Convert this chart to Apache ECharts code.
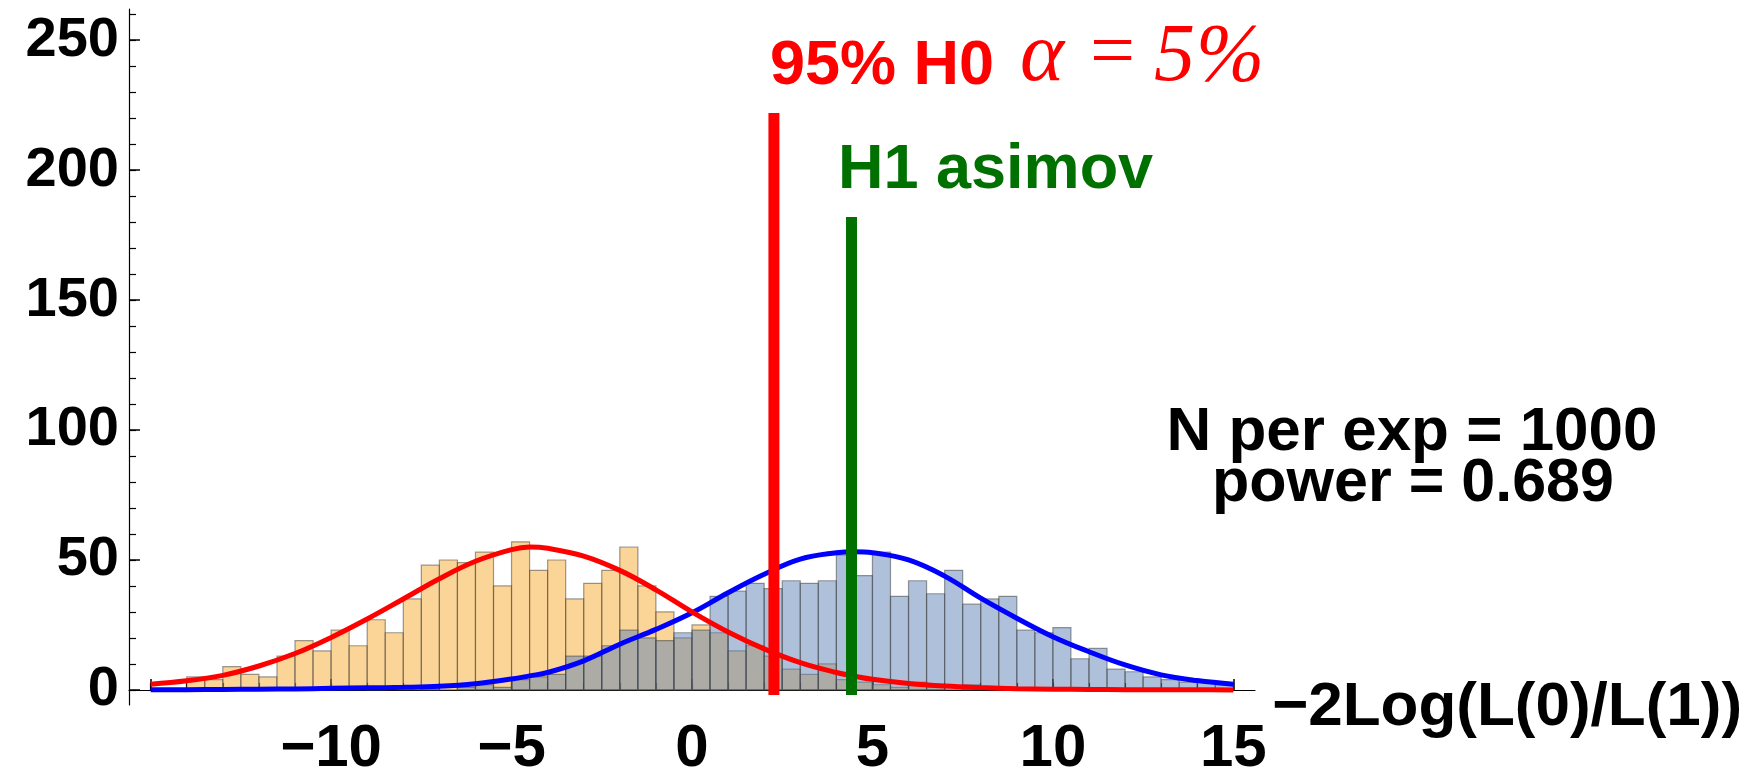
<!DOCTYPE html>
<html>
<head>
<meta charset="utf-8">
<script src="https://cdn.jsdelivr.net/npm/echarts@6/dist/echarts.min.js"></script>
<style>
  html, body { margin: 0; padding: 0; background: #fff; }
  #chart { width: 1764px; height: 770px; }
</style>
</head>
<body>
<div id="chart"></div>
<script>
// Histogram bins (left edges), width 0.5
const binWidth = 0.5;
const binStarts = [
  -15, -14.5, -14, -13.5, -13, -12.5, -12, -11.5, -11, -10.5,
  -10, -9.5, -9, -8.5, -8, -7.5, -7, -6.5, -6, -5.5,
  -5, -4.5, -4, -3.5, -3, -2.5, -2, -1.5, -1, -0.5,
  0, 0.5, 1, 1.5, 2, 2.5, 3, 3.5, 4, 4.5,
  5, 5.5, 6, 6.5, 7, 7.5, 8, 8.5, 9, 9.5,
  10, 10.5, 11, 11.5, 12, 12.5, 13, 13.5, 14, 14.5
];

// Pseudo-experiment counts under H0 (orange) and H1 (blue)
const h0Counts = [
  0, 0, 5, 4, 9, 6, 5, 13, 19, 15,
  23, 17, 27, 22, 35, 48, 50, 49, 53, 40,
  57, 46, 50, 35, 41, 46, 55, 40, 30, 20,
  25, 22, 15, 17, 13, 8, 6, 10, 4, 3,
  2, 1, 3, 1, 0, 2, 0, 1, 0, 0,
  0, 0, 0, 0, 0, 0, 0, 0, 0, 0
];
const h1Counts = [
  0, 0, 0, 0, 0, 0, 0, 0, 0, 0,
  0, 0, 1, 0, 0, 1, 0, 1, 2, 1,
  4, 5, 6, 13, 13, 17, 23, 20, 19, 22,
  23, 36, 38, 41, 39, 42, 41, 42, 52, 44,
  53, 36, 42, 37, 46, 33, 35, 36, 23, 22,
  24, 12, 16, 8, 7, 5, 4, 3, 3, 2
];

// Fitted curves (sampled)
const fitX = [-15, -14, -13, -12, -11, -10, -9, -8, -7, -6, -5, -4.5, -4, -3, -2, -1, 0, 1, 2, 3, 4, 4.5, 5, 6, 7, 8, 9, 10, 11, 12, 13, 14, 15];
const h0Fit = [2.2, 3.5, 5.6, 9.2, 14.0, 20.2, 27.3, 35.0, 42.8, 49.5, 54.0, 55.0, 54.5, 51.5, 46.0, 38.5, 30.0, 22.3, 15.8, 10.5, 6.7, 5.3, 4.1, 2.5, 1.5, 0.9, 0.5, 0.3, 0.2, 0.1, 0.1, 0.05, 0];
const h1Fit = [0.1, 0.1, 0.2, 0.3, 0.4, 0.6, 0.8, 1.0, 1.4, 2.4, 4.2, 5.4, 6.7, 11.2, 17.6, 23.3, 29.7, 37.4, 44.5, 50.3, 52.8, 53.2, 52.8, 50.0, 43.8, 35.3, 27.6, 20.5, 14.7, 9.6, 5.8, 3.6, 2.2];

// Reference lines: 95% quantile of H0 and the H1 Asimov value
const h0Cut = 2.27, h0CutTop = 222;
const h1Asimov = 4.42, h1AsimovTop = 182;

// Axis ticks and labels
const xMajorTicks = [-15, -10, -5, 0, 5, 10, 15];
const xMinorTicks = [-15, -14, -13, -12, -11, -10, -9, -8, -7, -6, -5, -4, -3, -2, -1, 0, 1, 2, 3, 4, 5, 6, 7, 8, 9, 10, 11, 12, 13, 14, 15];
const xTickLabels = [-10, -5, 0, 5, 10, 15];
const yMajorTicks = [0, 50, 100, 150, 200, 250];
const yMinorTicks = [0, 10, 20, 30, 40, 50, 60, 70, 80, 90, 100, 110, 120, 130, 140, 150, 160, 170, 180, 190, 200, 210, 220, 230, 240, 250, 260];
const xTitle = '\u22122Log(L(0)/L(1))';

const FONT = '"Liberation Sans", Arial, sans-serif';
const SERIF = '"Liberation Serif", "Times New Roman", serif';

function histSeries(name, counts, fill, z) {
  return {
    name: name,
    type: 'custom',
    z: z,
    data: binStarts.map((s, i) => [s, s + binWidth, counts[i]]),
    encode: { x: [0, 1], y: 2 },
    renderItem: function (params, api) {
      const p0 = api.coord([api.value(0), 0]);
      const p1 = api.coord([api.value(1), api.value(2)]);
      if (api.value(2) <= 0) return null;
      return {
        type: 'rect',
        shape: { x: p0[0], y: p1[1], width: p1[0] - p0[0], height: p0[1] - p1[1] },
        style: { fill: fill, stroke: 'rgba(60,60,60,0.5)', lineWidth: 1.2 }
      };
    }
  };
}

function pairs(xs, ys) { return xs.map((x, i) => [x, ys[i]]); }

const fmtMinus = v => (v < 0 ? '\u2212' + Math.abs(v) : String(v));

const option = {
  animation: false,
  backgroundColor: '#ffffff',
  grid: { left: 129, right: 509, top: 9, bottom: 65, containLabel: false, outerBoundsMode: 'none' },
  xAxis: [
    {
      type: 'value', min: -15.6, max: 15.6,
      axisLine: { onZero: true, lineStyle: { color: '#000', width: 1.2 } },
      axisTick: { inside: true, length: 11, customValues: xMajorTicks, lineStyle: { color: '#000', width: 1.5 } },
      axisLabel: {
        customValues: xTickLabels, formatter: fmtMinus, margin: 14,
        fontFamily: FONT, fontWeight: 'bold', fontSize: 60, color: '#000'
      },
      splitLine: { show: false }
    },
    {
      type: 'value', min: -15.6, max: 15.6, position: 'bottom',
      axisLine: { show: false, onZero: true },
      axisTick: { inside: true, length: 7, customValues: xMinorTicks, lineStyle: { color: '#000', width: 1.2 } },
      axisLabel: { show: false },
      splitLine: { show: false }
    }
  ],
  yAxis: [
    {
      type: 'value', min: -5.8, max: 262, position: 'left',
      axisLine: { show: true, onZero: false, lineStyle: { color: '#000', width: 1.2 } },
      axisTick: { inside: true, length: 11, customValues: yMajorTicks, lineStyle: { color: '#000', width: 1.5 } },
      axisLabel: {
        customValues: yMajorTicks, margin: 10,
        fontFamily: FONT, fontWeight: 'bold', fontSize: 56, color: '#000'
      },
      splitLine: { show: false }
    },
    {
      type: 'value', min: -5.8, max: 262, position: 'left',
      axisLine: { show: false, onZero: false },
      axisTick: { inside: true, length: 7, customValues: yMinorTicks, lineStyle: { color: '#000', width: 1.2 } },
      axisLabel: { show: false },
      splitLine: { show: false }
    }
  ],
  series: [
    histSeries('H0', h0Counts, 'rgba(247,172,47,0.5)', 2),
    histSeries('H1', h1Counts, 'rgba(94,129,181,0.5)', 3),
    {
      name: 'H1 fit', type: 'line', z: 4, data: pairs(fitX, h1Fit), smooth: 0.4,
      symbol: 'none', lineStyle: { color: '#0000ff', width: 5 }, clip: false
    },
    {
      name: 'H0 fit', type: 'line', z: 5, data: pairs(fitX, h0Fit), smooth: 0.4,
      symbol: 'none', lineStyle: { color: '#ff0000', width: 5 }, clip: false
    },
    {
      name: '95% H0', type: 'line', z: 6, data: [[h0Cut, -2], [h0Cut, h0CutTop]],
      symbol: 'none', lineStyle: { color: '#ff0000', width: 11, cap: 'butt' }, clip: false
    },
    {
      name: 'H1 asimov', type: 'line', z: 6, data: [[h1Asimov, -2], [h1Asimov, h1AsimovTop]],
      symbol: 'none', lineStyle: { color: '#007000', width: 11, cap: 'butt' }, clip: false
    }
  ],
  graphic: [
    { type: 'text', x: 770, y: 67, z: 10, style: { text: '95% H0', font: 'bold 63px ' + FONT, fill: '#ff0000', align: 'left', verticalAlign: 'middle' } },
    { type: 'text', x: 1020, y: 58, z: 10, style: { text: '\u03b1', font: 'italic 84px ' + SERIF, fill: '#ff0000', align: 'left', verticalAlign: 'middle' } },
    { type: 'text', x: 1090, y: 56, z: 10, style: { text: '=', font: '80px ' + SERIF, fill: '#ff0000', align: 'left', verticalAlign: 'middle' } },
    { type: 'text', x: 1154, y: 58, z: 10, style: { text: '5', font: 'italic 82px ' + SERIF, fill: '#ff0000', align: 'left', verticalAlign: 'middle' } },
    { type: 'text', x: 1196, y: 58, z: 10, style: { text: '%', font: 'italic 82px ' + SERIF, fill: '#ff0000', align: 'left', verticalAlign: 'middle' } },
    { type: 'text', x: 838, y: 171, z: 10, style: { text: 'H1 asimov', font: 'bold 63px ' + FONT, fill: '#007000', align: 'left', verticalAlign: 'middle' } },
    { type: 'text', x: 1412, y: 433, z: 10, style: { text: 'N per exp = 1000', font: 'bold 62px ' + FONT, fill: '#000', align: 'center', verticalAlign: 'middle' } },
    { type: 'text', x: 1413, y: 484, z: 10, style: { text: 'power = 0.689', font: 'bold 61px ' + FONT, fill: '#000', align: 'center', verticalAlign: 'middle' } },
    { type: 'text', x: 1272, y: 708, z: 10, style: { text: xTitle, font: 'bold 62px ' + FONT, fill: '#000', align: 'left', verticalAlign: 'middle' } }
  ]
};

const chart = echarts.init(document.getElementById('chart'), null, { renderer: 'canvas' });
chart.setOption(option);
</script>
</body>
</html>
